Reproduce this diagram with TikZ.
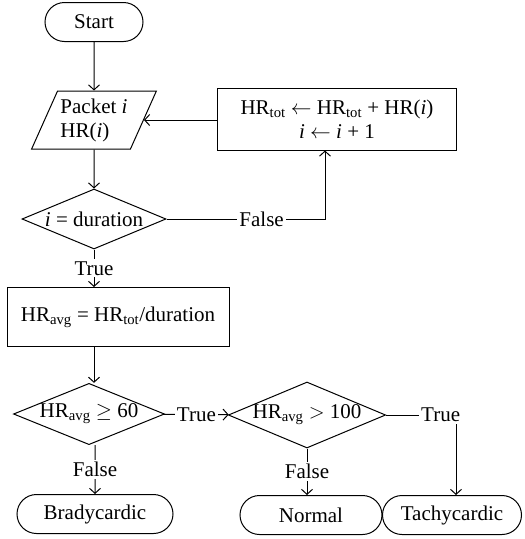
\documentclass[tikz,border=0pt]{standalone}
\usepackage{fontspec}
\setmainfont{Liberation Serif}
\usetikzlibrary{shapes.geometric,shapes.misc,arrows.meta}
\tikzset{every node/.style={font=\fontsize{21}{24}\selectfont},
         >={Straight Barb[length=5pt,width=11pt]},
         terminal/.style={draw,rounded rectangle,minimum height=39pt,inner sep=0pt},
         io/.style={draw,trapezium,trapezium left angle=61,trapezium right angle=119,
                    trapezium stretches=true,align=left,minimum width=125pt,minimum height=58pt,inner sep=0pt},
         process/.style={draw,rectangle,align=center,inner sep=0pt},
         decision/.style={draw,diamond,aspect=2.4,inner sep=0pt},
         lbl/.style={fill=white,inner sep=2pt}}

\begin{document}
\begin{tikzpicture}[x=1pt,y=-1pt,line width=1pt]
\useasboundingbox (0,0) rectangle (525,539);
% nodes
\node[terminal,minimum width=98pt] (start) at (94,22) {Start};
\node[io] (packet) at (94,120) {Packet \textit{i}\\HR(\textit{i})};
\node[process,minimum width=239pt,minimum height=62pt] (upd) at (337,119)
  {HR$_{\mathrm{tot}}$ $\leftarrow$ HR$_{\mathrm{tot}}$ + HR(\textit{i})\\ \textit{i} $\leftarrow$ \textit{i} + 1};
\node[decision,minimum width=144pt,minimum height=60pt] (dur) at (94,219) {\textit{i} = duration};
\node[process,minimum width=222pt,minimum height=59pt] (avg) at (118,317)
  {HR$_{\mathrm{avg}}$ = HR$_{\mathrm{tot}}$/duration};
\node[decision,minimum width=151pt,minimum height=58pt] (lo) at (89,414) {HR$_{\mathrm{avg}}$ $\geq$ 60};
\node[decision,minimum width=150pt,minimum height=66pt] (hi) at (307,415) {HR$_{\mathrm{avg}}$ $>$ 100};
\node[terminal,minimum width=156pt] (brady) at (95,514) {Bradycardic};
\node[terminal,minimum width=142pt] (normal) at (311,515) {Normal};
\node[terminal,minimum width=139pt] (tachy) at (452,515) {Tachycardic};
% connectors
\draw[->] (start) -- (packet);
\draw[->] (upd.west |- packet.east) -- (packet.east);
\draw[->] (packet) -- (dur);
\draw[->] (dur) -| node[lbl,pos=0.3]{False} ([xshift=-12pt]upd.south);
\draw[->] (dur.south) -- node[lbl]{True} (dur.south |- avg.north);
\draw[->] (dur.south |- avg.south) -- (dur.south |- lo.north);
\draw[->] (lo) -- node[lbl]{True} (hi);
\draw[->] (lo.south -| brady) -- node[lbl]{False} (brady);
\draw[->] (hi.south) -- node[lbl]{False} (hi.south |- normal.north);
\draw[->] (hi) -| node[lbl,pos=0.39]{True} ([xshift=4pt]tachy.north);
\end{tikzpicture}
\end{document}
